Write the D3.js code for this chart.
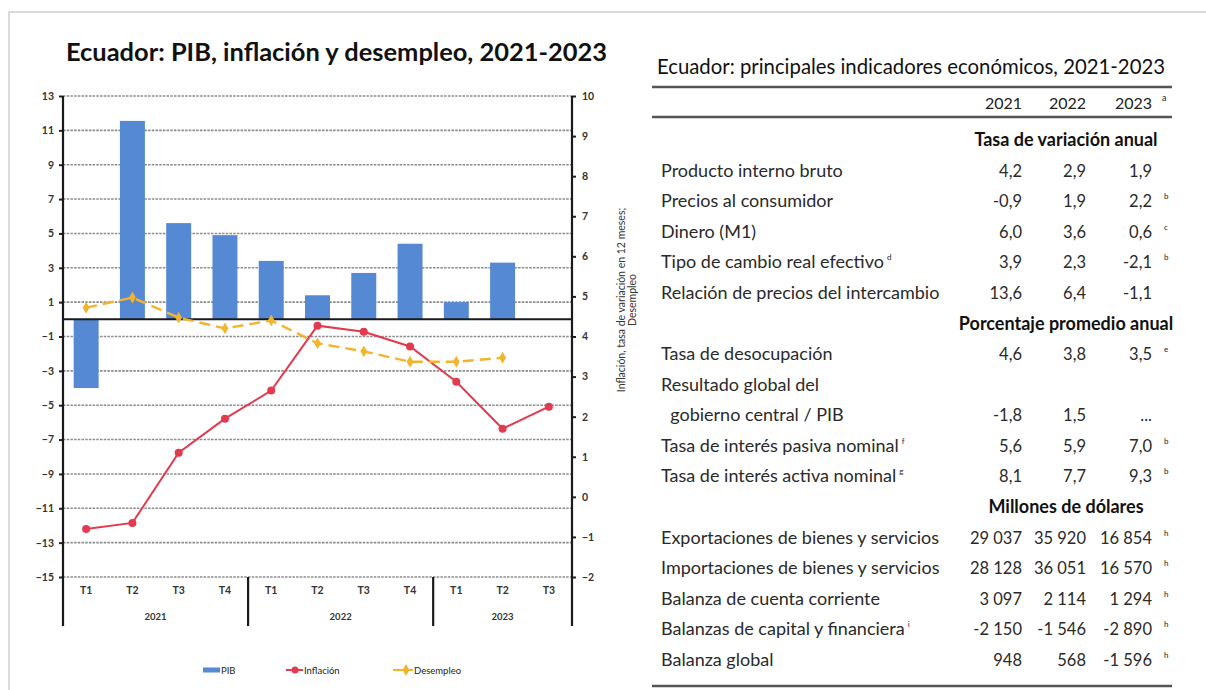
<!DOCTYPE html>
<html>
<head>
<meta charset="utf-8">
<script src="https://cdn.jsdelivr.net/npm/d3@7.9.0/dist/d3.min.js"></script>
<style>
  body { margin: 0; background: #fff; }
  svg { display: block; }
  text { font-family: Lato, "Open Sans", sans-serif; fill: #222; }
</style>
</head>
<body>
<svg id="fig" width="1206" height="690"></svg>
<script>
// ================================
// Chart data
// ================================
const quarters = ["T1", "T2", "T3", "T4", "T1", "T2", "T3", "T4", "T1", "T2", "T3"];
const quarterYears = ["2021", "2021", "2021", "2021", "2022", "2022", "2022", "2022", "2023", "2023", "2023"];
const years = ["2021", "2022", "2023"];
const pib = [-4.0, 11.55, 5.6, 4.9, 3.4, 1.4, 2.7, 4.4, 1.0, 3.3];
const inflacion = [-0.8, -0.65, 1.1, 1.95, 2.65, 4.27, 4.12, 3.75, 2.87, 1.7, 2.25];
const desempleo = [4.72, 4.97, 4.47, 4.2, 4.4, 3.83, 3.63, 3.37, 3.37, 3.47];
const leftTicks = [13, 11, 9, 7, 5, 3, 1, -1, -3, -5, -7, -9, -11, -13, -15];
const rightTicks = [10, 9, 8, 7, 6, 5, 4, 3, 2, 1, 0, -1, -2];

// ================================
// Table data
// ================================
const tableLabels = [
  "Tasa de variación anual",
  "Producto interno bruto", "Precios al consumidor", "Dinero (M1)",
  "Tipo de cambio real efectivo", "Relación de precios del intercambio",
  "Porcentaje promedio anual",
  "Tasa de desocupación", "Resultado global del", "  gobierno central / PIB",
  "Tasa de interés pasiva nominal", "Tasa de interés activa nominal",
  "Millones de dólares",
  "Exportaciones de bienes y servicios", "Importaciones de bienes y servicios",
  "Balanza de cuenta corriente", "Balanzas de capital y financiera", "Balanza global"
];
const sectionRows = [0, 6, 12];
const labelNotes = ["", "", "", "", "d", "", "", "", "", "", "f", "g", "", "", "", "", "i", ""];
const col2021 = ["", "4,2", "-0,9", "6,0", "3,9", "13,6", "", "4,6", "", "-1,8", "5,6", "8,1", "", "29 037", "28 128", "3 097", "-2 150", "948"];
const col2022 = ["", "2,9", "1,9", "3,6", "2,3", "6,4", "", "3,8", "", "1,5", "5,9", "7,7", "", "35 920", "36 051", "2 114", "-1 546", "568"];
const col2023 = ["", "1,9", "2,2", "0,6", "-2,1", "-1,1", "", "3,5", "", "...", "7,0", "9,3", "", "16 854", "16 570", "1 294", "-2 890", "-1 596"];
const notes2023 = ["", "", "b", "c", "b", "", "", "e", "", "", "b", "b", "", "h", "h", "h", "h", "h"];

const svg = d3.select("#fig");

// light frame around the figure
svg.append("rect")
  .attr("x", 9).attr("y", 12).attr("width", 1250).attr("height", 700)
  .attr("fill", "none").attr("stroke", "#d0d0d0").attr("stroke-width", 1.5);

// ================================
// Scales
// ================================
const ids = quarters.map((q, i) => quarterYears[i] + q);
const x = d3.scaleBand().domain(ids).range([63, 572]).paddingInner(0.46).paddingOuter(0.23);
const yL = d3.scaleLinear().domain([-15, 13]).range([577, 96]);
const yR = d3.scaleLinear().domain([-2, 10]).range([577, 96]);
const cx = (i) => x(ids[i]) + x.bandwidth() / 2;
const edge = (i) => x(ids[i]) - (x.step() - x.bandwidth()) / 2;

// title
svg.append("text")
  .attr("x", 66).attr("y", 61)
  .attr("textLength", 541).attr("lengthAdjust", "spacingAndGlyphs")
  .style("font-size", "25px").style("font-weight", "bold").style("fill", "#111")
  .text("Ecuador: PIB, inflación y desempleo, 2021-2023");

// gridlines
svg.append("g")
  .selectAll("line")
  .data(leftTicks)
  .join("line")
  .attr("x1", 63).attr("x2", 572)
  .attr("y1", (d) => yL(d)).attr("y2", (d) => yL(d))
  .attr("stroke", "#8c8c8c").attr("stroke-width", 1.6).attr("stroke-dasharray", "2.5,1.2");

// ================================
// Bars
// ================================
svg.append("g")
  .selectAll("rect")
  .data(pib)
  .join("rect")
  .attr("x", (d, i) => x(ids[i]))
  .attr("width", x.bandwidth())
  .attr("y", (d) => yL(Math.max(0, d)))
  .attr("height", (d) => Math.abs(yL(d) - yL(0)))
  .attr("fill", "#5589d4");

// zero line
svg.append("line")
  .attr("x1", 63).attr("x2", 572).attr("y1", yL(0)).attr("y2", yL(0))
  .attr("stroke", "#1a1a1a").attr("stroke-width", 2);

// ================================
// Lines
// ================================
const infLine = d3.line().x((d, i) => cx(i)).y((d) => yR(d));
svg.append("path")
  .datum(inflacion)
  .attr("d", infLine)
  .attr("fill", "none").attr("stroke", "#e23a4e").attr("stroke-width", 2);
svg.append("g")
  .selectAll("circle")
  .data(inflacion)
  .join("circle")
  .attr("cx", (d, i) => cx(i)).attr("cy", (d) => yR(d)).attr("r", 4)
  .attr("fill", "#e23a4e");

svg.append("path")
  .datum(desempleo)
  .attr("d", infLine)
  .attr("fill", "none").attr("stroke", "#f2b42c").attr("stroke-width", 2.4)
  .attr("stroke-dasharray", "11,6");
const diamond = d3.symbol().type(d3.symbolDiamond).size(40);
svg.append("g")
  .selectAll("path")
  .data(desempleo)
  .join("path")
  .attr("d", diamond)
  .attr("transform", (d, i) => `translate(${cx(i)},${yR(d)})`)
  .attr("fill", "#f2b42c");

// ================================
// Axes
// ================================
const axL = svg.append("g")
  .attr("transform", "translate(63,0)")
  .call(d3.axisLeft(yL).tickValues(leftTicks).tickSize(4).tickPadding(5).tickSizeOuter(0));
const axR = svg.append("g")
  .attr("transform", "translate(572,0)")
  .call(d3.axisRight(yR).tickValues(rightTicks).tickSize(4).tickPadding(6).tickSizeOuter(0));
[axL, axR].forEach((g) => {
  g.select(".domain").remove();
  g.selectAll(".tick line").attr("stroke", "#222").attr("stroke-width", 2);
  g.selectAll(".tick text")
    .style("font-family", "Lato, sans-serif").style("font-size", "10.5px")
    .style("font-weight", "bold").style("fill", "#333");
});

// vertical axis lines and year separators
const seps = [edge(0), edge(4), edge(8), 572];
svg.append("g")
  .selectAll("line")
  .data(seps)
  .join("line")
  .attr("x1", (d) => d).attr("x2", (d) => d)
  .attr("y1", (d, i) => (i === 0 || i === 3 ? 96 : 577)).attr("y2", 626)
  .attr("stroke", "#1a1a1a").attr("stroke-width", 2.2);

// quarter labels
svg.append("g")
  .selectAll("text")
  .data(quarters)
  .join("text")
  .attr("x", (d, i) => cx(i)).attr("y", 594)
  .attr("text-anchor", "middle")
  .style("font-size", "10.5px").style("font-weight", "bold").style("fill", "#333")
  .text((d) => d);

// year labels
svg.append("g")
  .selectAll("text")
  .data(years)
  .join("text")
  .attr("x", (d, i) => (seps[i] + seps[i + 1]) / 2).attr("y", 620)
  .attr("text-anchor", "middle")
  .style("font-size", "9.5px").style("font-weight", "bold").style("fill", "#333")
  .text((d) => d);

// right axis title
const rt = svg.append("text")
  .attr("transform", "translate(625,300) rotate(-90)")
  .attr("text-anchor", "middle")
  .style("font-size", "10.5px").style("fill", "#333");
rt.append("tspan").attr("x", 0).attr("dy", 0).text("Inflación, tasa de variación en 12 meses;");
rt.append("tspan").attr("x", 0).attr("dy", 10.5).text("Desempleo");

// ================================
// Legend
// ================================
const lg = svg.append("g").attr("transform", "translate(0,670)");
lg.append("rect").attr("x", 203).attr("y", -2.5).attr("width", 17).attr("height", 5).attr("fill", "#5589d4");
lg.append("text").attr("x", 221).attr("y", 3.5).style("font-size", "9.5px").text("PIB");
lg.append("line").attr("x1", 286).attr("x2", 303).attr("y1", 0).attr("y2", 0)
  .attr("stroke", "#e23a4e").attr("stroke-width", 2);
lg.append("circle").attr("cx", 295).attr("cy", 0).attr("r", 3.5).attr("fill", "#e23a4e");
lg.append("text").attr("x", 304).attr("y", 3.5).style("font-size", "9.5px").text("Inflación");
lg.append("line").attr("x1", 393).attr("x2", 413).attr("y1", 0).attr("y2", 0)
  .attr("stroke", "#f2b42c").attr("stroke-width", 2);
lg.append("path").attr("d", diamond).attr("transform", "translate(406,0)").attr("fill", "#f2b42c");
lg.append("text").attr("x", 414).attr("y", 3.5).style("font-size", "9.5px").text("Desempleo");

// ================================
// Table
// ================================
svg.append("text")
  .attr("x", 657).attr("y", 74)
  .attr("textLength", 508).attr("lengthAdjust", "spacingAndGlyphs")
  .style("font-size", "21px").style("fill", "#111")
  .text("Ecuador: principales indicadores económicos, 2021-2023");

[87, 117, 686].forEach((yy) => {
  svg.append("line")
    .attr("x1", 652).attr("x2", 1172).attr("y1", yy).attr("y2", yy)
    .attr("stroke", "#555").attr("stroke-width", 2.5);
});

const colX = [1022, 1086, 1152];
years.forEach((yr, i) => {
  svg.append("text")
    .attr("x", colX[i]).attr("y", 109).attr("text-anchor", "end")
    .style("font-size", "16px").text(yr);
});
svg.append("text").attr("x", 1162).attr("y", 101).style("font-size", "9px").text("a");

const rowY = d3.scalePoint().domain(d3.range(tableLabels.length)).range([140, 660]);
const rows = svg.append("g")
  .selectAll("g")
  .data(tableLabels)
  .join("g")
  .attr("transform", (d, i) => `translate(0,${rowY(i) + 6})`);

rows.filter((d, i) => sectionRows.includes(i))
  .append("text")
  .attr("x", 1066).attr("text-anchor", "middle")
  .style("font-size", "18px").style("font-weight", "bold").style("fill", "#111")
  .text((d) => d);

const dataRows = rows.filter((d, i) => !sectionRows.includes(i));
dataRows.append("text")
  .attr("x", 661)
  .attr("xml:space", "preserve")
  .style("font-size", "18px").style("fill", "#2a2a2a")
  .text((d) => d)
  .append("tspan")
  .attr("dx", 3).attr("dy", -8)
  .style("font-size", "8px")
  .text((d) => labelNotes[tableLabels.indexOf(d)]);

[col2021, col2022, col2023].forEach((col, c) => {
  dataRows.append("text")
    .attr("x", colX[c]).attr("text-anchor", "end")
    .style("font-size", "16.5px").style("fill", "#2a2a2a")
    .text((d) => col[tableLabels.indexOf(d)]);
});
dataRows.append("text")
  .attr("x", 1164).attr("y", -8)
  .style("font-size", "8px")
  .text((d) => notes2023[tableLabels.indexOf(d)]);
</script>
</body>
</html>
